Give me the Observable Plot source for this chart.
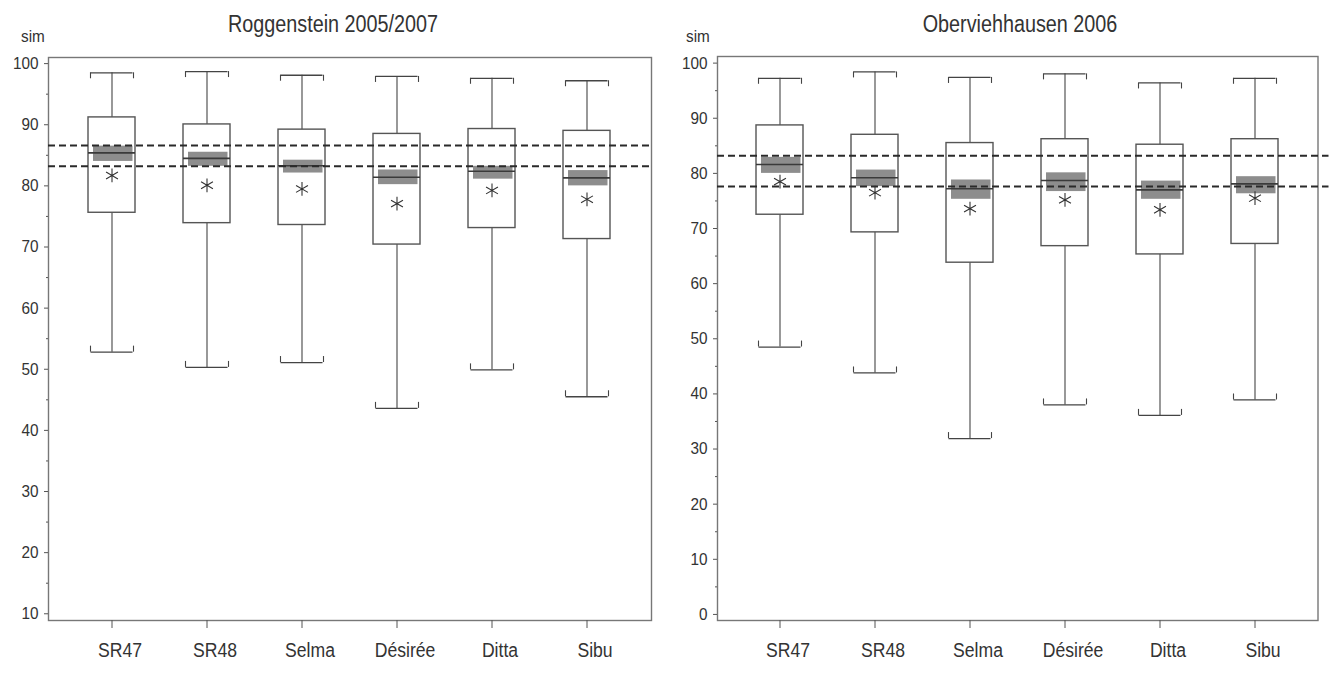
<!DOCTYPE html>
<html><head><meta charset="utf-8">
<script src="https://cdn.jsdelivr.net/npm/d3@7"></script>
<script src="https://cdn.jsdelivr.net/npm/@observablehq/plot@0.6"></script>
<style>
body{margin:0;background:#fff;}
#wrap{position:relative;width:1329px;height:684px;overflow:hidden;font-family:"Liberation Sans",Arial,Helvetica,sans-serif;color:#333;}
.panel{position:absolute;top:0;}
.title{position:absolute;font-size:23px;line-height:1;white-space:nowrap;transform:translateX(-50%) scaleX(0.86);}
.sim{position:absolute;font-size:17px;line-height:1;transform-origin:left;transform:scaleX(0.9);}
.ghost{position:absolute;border-color:#e2e2e2;border-style:solid;border-width:0;}
</style></head><body><div id="wrap"></div>
<script>
const categories = ["SR47", "SR48", "Selma", "Désirée", "Ditta", "Sibu"];

// Roggenstein 2005/2007
const rogTitle = "Roggenstein 2005/2007";
const rogWhiskerHigh = [98.5, 98.7, 98.1, 97.9, 97.6, 97.2];
const rogQ3          = [91.2, 90.05, 89.2, 88.5, 89.3, 89.0];
const rogBandHigh    = [86.5, 85.5, 84.2, 82.6, 83.2, 82.5];
const rogMedian      = [85.4, 84.5, 83.3, 81.4, 82.4, 81.3];
const rogBandLow     = [84.0, 83.2, 82.1, 80.2, 81.1, 80.0];
const rogMean        = [81.7, 80.1, 79.5, 77.1, 79.25, 77.8];
const rogQ1          = [75.6, 73.9, 73.6, 70.4, 73.1, 71.3];
const rogWhiskerLow  = [52.8, 50.3, 51.1, 43.6, 49.9, 45.5];
const rogRefLines    = [86.6, 83.2];
const rogYTicks      = [10, 20, 30, 40, 50, 60, 70, 80, 90, 100];

// Oberviehhausen 2006
const obvTitle = "Oberviehhausen 2006";
const obvWhiskerHigh = [97.25, 98.4, 97.4, 98.05, 96.4, 97.25];
const obvQ3          = [88.7, 87.0, 85.5, 86.2, 85.2, 86.2];
const obvBandHigh    = [82.9, 80.6, 78.8, 80.1, 78.6, 79.4];
const obvMedian      = [81.6, 79.2, 77.2, 78.7, 77.0, 78.1];
const obvBandLow     = [80.0, 77.6, 75.3, 76.7, 75.3, 76.3];
const obvMean        = [78.5, 76.5, 73.6, 75.2, 73.4, 75.5];
const obvQ1          = [72.5, 69.3, 63.8, 66.8, 65.3, 67.2];
const obvWhiskerLow  = [48.5, 43.8, 31.9, 38.0, 36.1, 38.9];
const obvRefLines    = [83.2, 77.6];
const obvYTicks      = [0, 10, 20, 30, 40, 50, 60, 70, 80, 90, 100];

const yLabel = "sim";
const FONT = '"Liberation Sans",Arial,Helvetica,sans-serif';

function panel(p) {
  const rows = categories.map((c, i) => ({
    cat: c, hi: p.hi[i], q3: p.q3[i], bh: p.bh[i], med: p.med[i],
    bl: p.bl[i], mean: p.mean[i], q1: p.q1[i], lo: p.lo[i]
  }));
  const minor = p.yTicks.slice(0, -1).map(t => t + 5);
  const half = 21.5;
  const ink = "#444";
  return Plot.plot({
    width: 664, height: 684,
    marginLeft: p.ml, marginRight: p.mr, marginTop: p.mt, marginBottom: p.mb,
    style: {background: "white", color: "#333", fontFamily: FONT, fontSize: "16px", overflow: "visible"},
    x: {type: "band", domain: categories, paddingInner: 0.505, paddingOuter: p.po, label: null},
    y: {domain: p.yDomain, label: null},
    marks: [
      Plot.frame({stroke: "#777", strokeWidth: 1.4}),
      Plot.ruleX(rows, {x: "cat", y1: "lo", y2: "hi", stroke: ink, strokeWidth: 1.1}),
      Plot.tickY(rows, {x: "cat", y: "hi", inset: 2.5, stroke: ink, strokeWidth: 1.3}),
      Plot.ruleX(rows, {x: "cat", y1: "hi", y2: "hi", dx: -half, insetTop: 0, insetBottom: -6, stroke: ink, strokeWidth: 1.1}),
      Plot.ruleX(rows, {x: "cat", y1: "hi", y2: "hi", dx: half, insetTop: 0, insetBottom: -6, stroke: ink, strokeWidth: 1.1}),
      Plot.tickY(rows, {x: "cat", y: "lo", inset: 2.5, stroke: ink, strokeWidth: 1.3}),
      Plot.ruleX(rows, {x: "cat", y1: "lo", y2: "lo", dx: -half, insetTop: -6, insetBottom: 0, stroke: ink, strokeWidth: 1.1}),
      Plot.ruleX(rows, {x: "cat", y1: "lo", y2: "lo", dx: half, insetTop: -6, insetBottom: 0, stroke: ink, strokeWidth: 1.1}),
      Plot.barY(rows, {x: "cat", y1: "q1", y2: "q3", fill: "white", stroke: "#555", strokeWidth: 1.4}),
      Plot.barY(rows, {x: "cat", y1: "bl", y2: "bh", fill: "#8d8d8d", insetLeft: 5, insetRight: 2.5}),
      Plot.tickY(rows, {x: "cat", y: "med", stroke: "#3a3a3a", strokeWidth: 1.6}),
      Plot.dot(rows, {x: "cat", y: "mean", symbol: "asterisk", r: 6.5, stroke: "#333", strokeWidth: 1.1}),
      Plot.ruleY(p.refs, {stroke: "#2a2a2a", strokeWidth: 2, strokeDasharray: "7,4", insetRight: p.refExtend}),
      Plot.axisY({ticks: p.yTicks, tickSize: 4, tickPadding: 6, fontSize: 17, stroke: "#555"}),
      Plot.axisY({ticks: minor, tickSize: 2, text: null, stroke: "#555"}),
      Plot.axisX({tickSize: 8, text: null, stroke: "#555"}),
      Plot.axisX({tickSize: 0, tickPadding: 22, dx: 8, fontSize: 20})
    ]
  });
}

function condense(svg, selector, factor) {
  svg.querySelectorAll(selector).forEach(t => {
    const len = t.getComputedTextLength();
    if (len > 0) {
      t.setAttribute("textLength", (len * factor).toFixed(2));
      t.setAttribute("lengthAdjust", "spacingAndGlyphs");
    }
  });
}

const wrap = document.getElementById("wrap");

function addPanel(left, p, titleX, simX) {
  const div = document.createElement("div");
  div.className = "panel";
  div.style.left = left + "px";
  const svg = panel(p);
  div.appendChild(svg);
  wrap.appendChild(div);
  condense(svg, 'g[aria-label="x-axis tick label"] text', 0.88);
  condense(svg, 'g[aria-label="y-axis tick label"] text', 0.9);
  const t = document.createElement("div");
  t.className = "title"; t.textContent = p.title;
  t.style.left = titleX + "px"; t.style.top = "13px";
  wrap.appendChild(t);
  const s = document.createElement("div");
  s.className = "sim"; s.textContent = yLabel;
  s.style.left = simX + "px"; s.style.top = "28px";
  wrap.appendChild(s);
}

// faint border of the right-hand picture
const g1 = document.createElement("div");
g1.className = "ghost";
Object.assign(g1.style, {left: "685px", top: "2px", width: "636px", height: "680px", borderLeftWidth: "1px", borderRightWidth: "1px", borderBottomWidth: "1px"});
wrap.appendChild(g1);
const g2 = document.createElement("div");
g2.className = "ghost";
Object.assign(g2.style, {left: "669px", top: "663px", width: "16px", height: "30px", borderLeftWidth: "1px", borderTopWidth: "1px"});
wrap.appendChild(g2);

addPanel(0, {
  title: rogTitle, hi: rogWhiskerHigh, q3: rogQ3, bh: rogBandHigh, med: rogMedian,
  bl: rogBandLow, mean: rogMean, q1: rogQ1, lo: rogWhiskerLow, refs: rogRefLines,
  yTicks: rogYTicks, yDomain: [8.9, 101.0],
  ml: 48, mr: 13, mt: 57, mb: 64, po: 0.42, refExtend: 0
}, 333, 21);

addPanel(665, {
  title: obvTitle, hi: obvWhiskerHigh, q3: obvQ3, bh: obvBandHigh, med: obvMedian,
  bl: obvBandLow, mean: obvMean, q1: obvQ1, lo: obvWhiskerLow, refs: obvRefLines,
  yTicks: obvYTicks, yDomain: [-1.1, 101.2],
  ml: 52, mr: 11.5, mt: 56, mb: 64, po: 0.41, refExtend: -11
}, 1020, 686);
</script>
</body></html>
